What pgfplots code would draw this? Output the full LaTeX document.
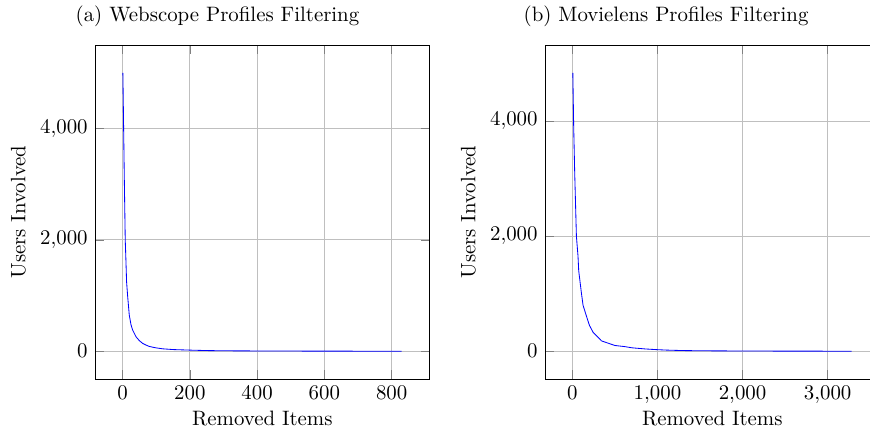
\documentclass[border=0pt]{standalone}
\usepackage{pgfplots}
\pgfplotsset{compat=1.18}

\pgfplotstableread{
x y
1 5000
5 3200
8 2000
10 1640
12 1250
15 1000
20 650
25 480
30 380
40 260
50 190
60 140
70 110
80 85
100 60
120 43
150 30
200 20
250 12
300 8
400 5
500 3
600 2
700 1
830 0
}\webscope

\pgfplotstableread{
x y
5 4840
15 3900
27 3100
47 2000
66 1650
74 1400
106 1010
125 800
165 610
200 450
243 330
290 260
342 180
420 140
499 100
617 80
697 60
854 40
972 29
1100 20
1287 12
1500 8
2000 4
2500 2
3000 1
3283 0
}\movielens

\pgfplotsset{
  subplot/.style={
    scale only axis,
    width=160.5pt,
    height=160.2pt,
    grid=major,
    ytick={0,2000,4000},
    xlabel={Removed Items},
    ylabel={Users Involved},
    every axis x label/.style={at={(axis description cs:0.5,0)},anchor=base,yshift=-22.1pt},
  },
}

\begin{document}
\begin{tikzpicture}
\begin{axis}[subplot, at={(0pt,0pt)}, anchor=south west]
\addplot[blue] table[x=x,y=y] {\webscope};
\end{axis}

\begin{axis}[subplot, at={(215.8pt,0pt)}, anchor=south west]
\addplot[blue] table[x=x,y=y] {\movielens};
\end{axis}

\node[anchor=base] at (58.75pt,171.5pt) {(a) Webscope Profiles Filtering};
\node[anchor=base] at (273.9pt,171.5pt) {(b) Movielens Profiles Filtering};

\pgfresetboundingbox
\useasboundingbox (-45.56pt,-25.42pt) rectangle (371.7pt,181.8pt);
\end{tikzpicture}
\end{document}
